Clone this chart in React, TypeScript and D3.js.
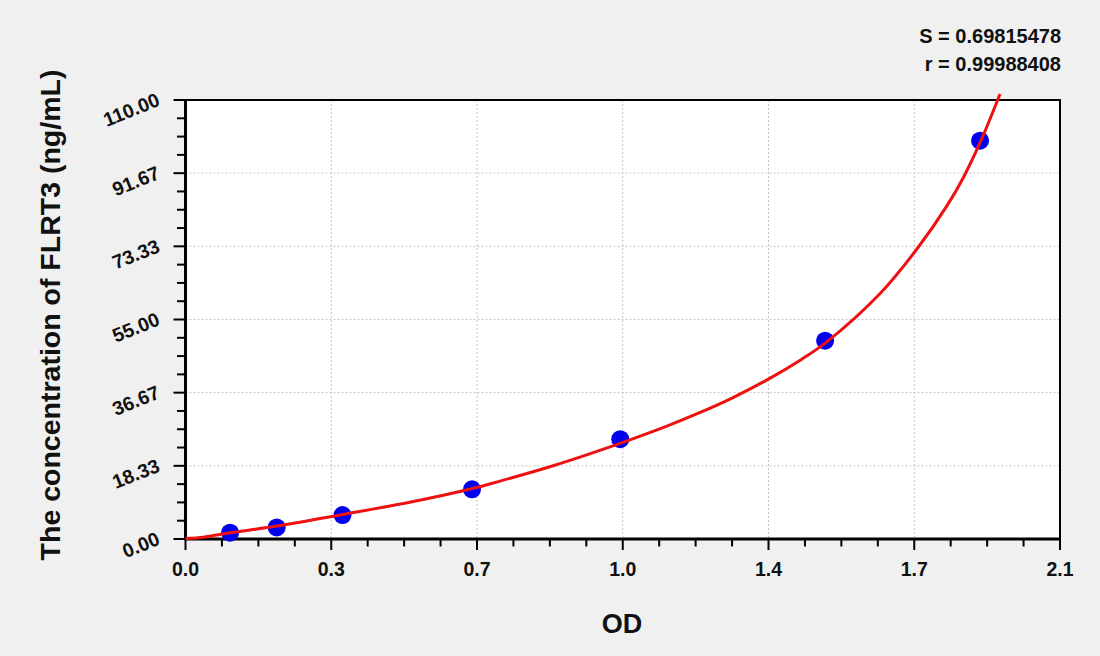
import React from "react";
import * as d3 from "d3";

const W = 1100;
const H = 656;

// Standard points (OD, concentration)
const pointOD = [0.107, 0.219, 0.377, 0.688, 1.044, 1.536, 1.908];
const pointConc = [1.58, 2.9, 6.0, 12.45, 25.0, 49.7, 99.8];

// Fitted curve
const curveOD = [0, 0.043, 0.075, 0.107, 0.219, 0.375, 0.547, 0.687, 0.755, 0.875, 0.995, 1.156, 1.236, 1.316, 1.404, 1.476, 1.54, 1.668, 1.756, 1.828, 1.868, 1.908, 1.956];
const curveConc = [0.1, 0.45, 1.0, 1.55, 3.25, 6.1, 9.4, 12.6, 14.5, 18.1, 22.2, 28.3, 31.7, 35.5, 40.3, 44.8, 49.4, 61.5, 72.6, 83.4, 90.6, 99.3, 111.5];

const xTicks = [0, 0.35, 0.7, 1.05, 1.4, 1.75, 2.1];
const xTickLabels = ["0.0", "0.3", "0.7", "1.0", "1.4", "1.7", "2.1"];
const yTicks = [0, 18.333, 36.667, 55, 73.333, 91.667, 110];
const yTickLabels = ["0.00", "18.33", "36.67", "55.00", "73.33", "91.67", "110.00"];

const statLines = ["S = 0.69815478", "r = 0.99988408"];
const xTitle = "OD";
const yTitle = "The concentration of FLRT3 (ng/mL)";

const FONT = "'Liberation Sans', Arial, Helvetica, sans-serif";

export default function App() {
  const left = 185.5, right = 1060, top = 100, bottom = 539;
  const x = d3.scaleLinear().domain([0, 2.1]).range([left, right]);
  const y = d3.scaleLinear().domain([0, 110]).range([bottom, top]);

  const xMinor: number[] = [];
  for (let i = 0; i < xTicks.length - 1; i++) {
    const step = (xTicks[i + 1] - xTicks[i]) / 4;
    for (let k = 1; k < 4; k++) xMinor.push(xTicks[i] + k * step);
  }
  const yMinor: number[] = [];
  for (let i = 0; i < yTicks.length - 1; i++) {
    const step = (yTicks[i + 1] - yTicks[i]) / 4;
    for (let k = 1; k < 4; k++) yMinor.push(yTicks[i] + k * step);
  }

  const curveData = curveOD.map((d, i) => [d, curveConc[i]] as [number, number]);
  const line = d3
    .line<[number, number]>()
    .x((d) => x(d[0]))
    .y((d) => y(d[1]))
    .curve(d3.curveCatmullRom.alpha(0.5));
  const pathD = line(curveData) || "";

  return (
    <svg
      width={W}
      height={H}
      style={{ position: "fixed", left: 0, top: 0, background: "#f0f0f0" }}
      fontFamily={FONT}
    >
      <rect x={0} y={0} width={W} height={H} fill="#f0f0f0" />
      <rect x={left} y={top} width={right - left} height={bottom - top} fill="#ffffff" />

      {/* grid */}
      {xTicks.slice(1, -1).map((t) => (
        <line key={"gx" + t} x1={x(t)} x2={x(t)} y1={top} y2={bottom} stroke="#c4c4c4" strokeWidth={1} strokeDasharray="2,2" />
      ))}
      {yTicks.slice(1, -1).map((t) => (
        <line key={"gy" + t} x1={left} x2={right} y1={y(t)} y2={y(t)} stroke="#c4c4c4" strokeWidth={1} strokeDasharray="2,2" />
      ))}

      {/* frame */}
      <rect x={left} y={top} width={right - left} height={bottom - top} fill="none" stroke="#000" strokeWidth={2} />
      <line x1={left} x2={left} y1={top - 1} y2={bottom + 1} stroke="#000" strokeWidth={3} />
      <line x1={left - 1} x2={right + 1} y1={bottom} y2={bottom} stroke="#000" strokeWidth={3} />

      {/* x ticks */}
      {xTicks.map((t) => (
        <line key={"xt" + t} x1={x(t)} x2={x(t)} y1={bottom} y2={bottom + 11} stroke="#000" strokeWidth={2} />
      ))}
      {xMinor.map((t) => (
        <line key={"xm" + t} x1={x(t)} x2={x(t)} y1={bottom} y2={bottom + 7.5} stroke="#000" strokeWidth={2} />
      ))}
      {xTicks.map((t, i) => (
        <text key={"xl" + t} x={x(t)} y={576} textAnchor="middle" fontSize={19.5} fontWeight="bold" fill="#111">
          {xTickLabels[i]}
        </text>
      ))}

      {/* y ticks */}
      {yTicks.map((t) => (
        <line key={"yt" + t} x1={left - 12} x2={left} y1={y(t)} y2={y(t)} stroke="#000" strokeWidth={2} />
      ))}
      {yMinor.map((t) => (
        <line key={"ym" + t} x1={left - 8.5} x2={left} y1={y(t)} y2={y(t)} stroke="#000" strokeWidth={2} />
      ))}
      {yTickLabels.map((lab, i) => (
        <text
          key={"yl" + i}
          transform={`translate(161,${y(yTicks[i]) + 5}) rotate(-22)`}
          textAnchor="end"
          fontSize={19.5}
          fontWeight="bold"
          fill="#111"
        >
          {lab}
        </text>
      ))}

      {/* points */}
      {pointOD.map((d, i) => (
        <circle key={"p" + i} cx={x(d)} cy={y(pointConc[i])} r={9} fill="#0000ee" />
      ))}
      {/* curve drawn over points as in reference */}
      <path d={pathD} fill="none" stroke="#ee1111" strokeWidth={3} strokeLinejoin="round" />

      {/* titles */}
      <text x={622} y={633} textAnchor="middle" fontSize={27} fontWeight="bold" fill="#111">
        {xTitle}
      </text>
      <text transform="translate(60,315) rotate(-90)" textAnchor="middle" fontSize={28.5} fontWeight="bold" fill="#111">
        {yTitle}
      </text>

      {/* stats */}
      {statLines.map((s, i) => (
        <text key={"s" + i} x={1061} y={43 + i * 28} textAnchor="end" fontSize={20} fontWeight="bold" fill="#111">
          {s}
        </text>
      ))}
    </svg>
  );
}
